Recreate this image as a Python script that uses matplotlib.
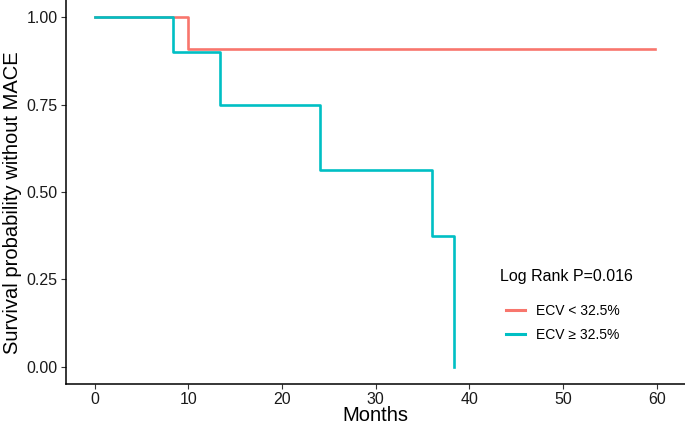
import matplotlib.pyplot as plt
from matplotlib.lines import Line2D

plt.rcParams["font.family"] = ["Liberation Sans", "DejaVu Sans"]

# Kaplan-Meier step data
low_times = [0, 10.0, 59.8]
low_surv = [1.0, 0.909, 0.909]

high_times = [0, 8.4, 13.4, 24.0, 36.0, 38.3]
high_surv = [1.0, 0.9, 0.75, 0.5625, 0.375, 0.0]

x_ticks = [0, 10, 20, 30, 40, 50, 60]
y_ticks = [0.00, 0.25, 0.50, 0.75, 1.00]
y_tick_labels = ["0.00", "0.25", "0.50", "0.75", "1.00"]

RED = "#F8766D"
CYAN = "#00BFC4"


def main():
    fig = plt.figure(figsize=(6.85, 4.24), dpi=100)
    ax = fig.add_axes([66 / 685, 40 / 424, 619 / 685, 384 / 424])

    ax.step(low_times, low_surv, where="post", color=RED, linewidth=1.9)
    ax.step(high_times, high_surv, where="post", color=CYAN, linewidth=1.9)

    ax.set_xlim(-3.06, 63.0)
    ax.set_ylim(-0.05, 1.05)
    ax.set_xticks(x_ticks)
    ax.set_yticks(y_ticks)
    ax.set_yticklabels(y_tick_labels)
    ax.tick_params(axis="both", labelsize=11.5, colors="#333333", length=3.5,
                   width=0.8, labelcolor="#1a1a1a", pad=2.5)
    for side in ("top", "right"):
        ax.spines[side].set_visible(False)
    for side in ("left", "bottom"):
        ax.spines[side].set_linewidth(1.1)
        ax.spines[side].set_color("black")

    ax.set_xlabel("Months", fontsize=14.5, labelpad=-1)
    ax.set_ylabel("Survival probability without MACE", fontsize=14.5)
    ax.yaxis.set_label_coords(-0.0715, 0.471)

    # legend title placed separately so its gap to the entries matches
    fig.text(500 / 685, 1 - 276 / 424, "Log Rank P=0.016", fontsize=11.5,
             ha="left", va="center")

    handles = [
        Line2D([], [], color=RED, linewidth=2.2),
        Line2D([], [], color=CYAN, linewidth=2.2),
    ]
    ax.legend(handles, ["ECV < 32.5%", "ECV \u2265 32.5%"],
              loc="upper left", bbox_to_anchor=(499 / 685, 1 - 297 / 424),
              bbox_transform=fig.transFigure, frameon=False, borderpad=0,
              fontsize=10, handlelength=1.4, handletextpad=0.8,
              labelspacing=0.7)

    fig.savefig("out.png", dpi=100)


if __name__ == "__main__":
    main()
